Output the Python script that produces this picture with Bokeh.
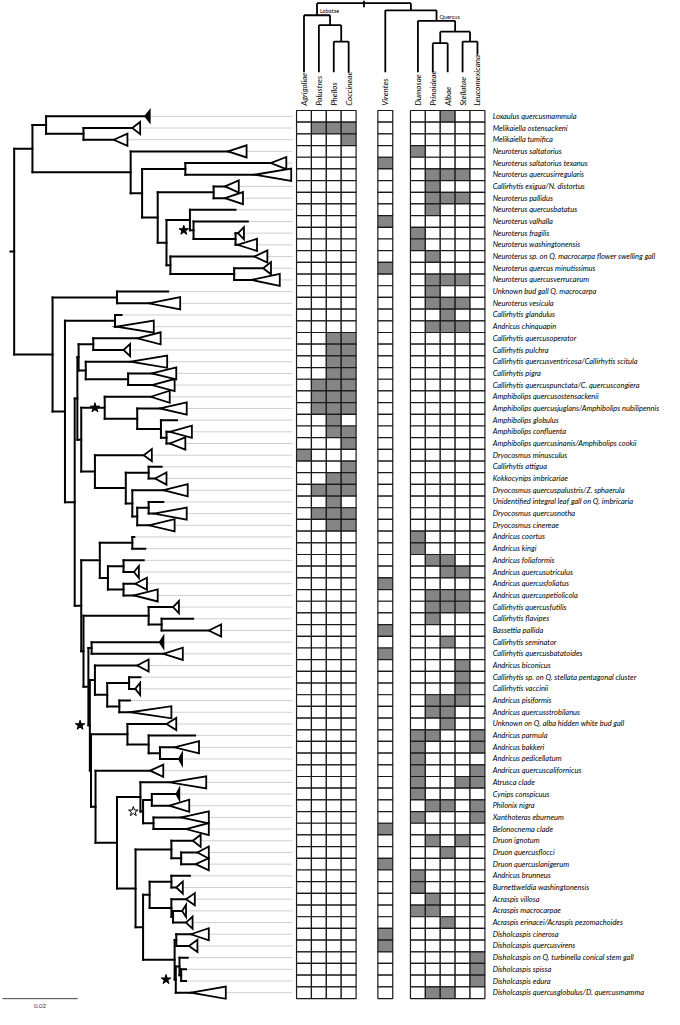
import math
from bokeh.plotting import figure
from bokeh.models import Range1d, ColumnDataSource
from bokeh.embed import file_html
from bokeh.resources import INLINE
from bokeh.core.properties import value

# ---------------- data ----------------
SPECIES = [
    "Loxaulus quercusmammula", "Melikaiella ostensackeni", "Melikaiella tumifica",
    "Neuroterus saltatorius", "Neuroterus saltatorius texanus", "Neuroterus quercusirregularis",
    "Callirhytis exigua/N. distortus", "Neuroterus pallidus", "Neuroterus quercusbatatus",
    "Neuroterus valhalla", "Neuroterus fragilis", "Neuroterus washingtonensis",
    "Neuroterus sp. on Q. macrocarpa flower swelling gall", "Neuroterus quercus minutissimus",
    "Neuroterus quercusverrucarum", "Unknown bud gall Q. macrocarpa", "Neuroterus vesicula",
    "Callirhytis glandulus", "Andricus chinquapin", "Callirhytis quercusoperator",
    "Callirhytis pulchra", "Callirhytis quercusventricosa/Callirhytis scitula", "Callirhytis pigra",
    "Callirhytis quercuspunctata/C. quercuscongiera", "Amphibolips quercusostensackenii",
    "Amphibolips quercusjuglans/Amphibolips nubilipennis", "Amphibolips globulus",
    "Amphibolips confluenta", "Amphibolips quercusinanis/Amphibolips cookii",
    "Dryocosmus minusculus", "Callirhytis attigua", "Kokkocynips imbricariae",
    "Dryocosmus quercuspalustris/Z. sphaerula", "Unidentified integral leaf gall on Q. imbricaria",
    "Dryocosmus quercusnotha", "Dryocosmus cinereae", "Andricus coortus", "Andricus kingi",
    "Andricus foliaformis", "Andricus quercusutriculus", "Andricus quercusfoliatus",
    "Andricus quercuspetiolicola", "Callirhytis quercusfutilis", "Callirhytis flavipes",
    "Bassettia pallida", "Callirhytis seminator", "Callirhytis quercusbatatoides",
    "Andricus biconicus", "Callirhytis sp. on Q. stellata pentagonal cluster",
    "Callirhytis vaccinii", "Andricus pisiformis", "Andricus quercusstrobilanus",
    "Unknown on Q. alba hidden white bud gall", "Andricus parmula", "Andricus bakkeri",
    "Andricus pedicellatum", "Andricus quercuscalifornicus", "Atrusca clade",
    "Cynips conspicuus", "Philonix nigra", "Xanthoteras eburneum", "Belonocnema clade",
    "Druon ignotum", "Druon quercusflocci", "Druon quercuslanigerum", "Andricus brunneus",
    "Burnettweldia washingtonensis", "Acraspis villosa", "Acraspis macrocarpae",
    "Acraspis erinacei/Acraspis pezomachoides", "Disholcaspis cinerosa",
    "Disholcaspis quercusvirens", "Disholcaspis on Q. turbinella conical stem gall",
    "Disholcaspis spissa", "Disholcaspis edura", "Disholcaspis quercusglobulus/D. quercusmamma",
]

SECTIONS = ["Agrigoliae", "Palustres", "Phellos", "Coccineae", "Virentes",
            "Dumosae", "Prinoideae", "Albae", "Stellatae", "Leucomexicana"]
SECTION_GROUP_SIZES = [4, 1, 5]

# host oak sections per gall wasp (columns as in SECTIONS; groups separated by spaces)
HOSTS = [
    "0000 0 00100", "0111 0 00000", "0001 0 00000", "0000 0 10000", "0000 1 00000",
    "0000 0 01110", "0000 0 01000", "0000 0 01110", "0000 0 01000", "0000 1 00000",
    "0000 0 10000", "0000 0 10000", "0000 0 01000", "0000 1 00000", "0000 0 01110",
    "0000 0 01000", "0000 0 01110", "0000 0 00100", "0000 0 01110", "0011 0 00000",
    "0011 0 00000", "0011 0 00000", "0011 0 00000", "0111 0 00000", "0111 0 00000",
    "0111 0 00000", "0010 0 00000", "0011 0 00000", "0001 0 00000", "1000 0 00000",
    "0001 0 00000", "0011 0 00000", "0111 0 00000", "0010 0 00000", "0111 0 00000",
    "0011 0 00000", "0000 0 10000", "0000 0 10000", "0000 0 01100", "0000 0 00110",
    "0000 1 00000", "0000 0 01110", "0000 0 01110", "0000 0 01000", "0000 1 00000",
    "0000 0 00100", "0000 1 00000", "0000 0 00010", "0000 0 00010", "0000 0 00010",
    "0000 0 01110", "0000 0 01100", "0000 0 00100", "0000 0 11001", "0000 0 10001",
    "0000 0 10000", "0000 0 10001", "0000 0 10011", "0000 0 10000", "0000 0 01101",
    "0000 0 10001", "0000 1 00000", "0000 0 01010", "0000 0 00100", "0000 1 00000",
    "0000 0 10000", "0000 0 10000", "0000 0 01000", "0000 0 11000", "0000 0 00100",
    "0000 1 00000", "0000 1 00000", "0000 0 00001", "0000 0 00001", "0000 0 00001",
    "0000 0 01100",
]

# wasp phylogeny: (node, depth in 0.001 subst/site, children)
# tips: "tE" = branch ending at E; "oA-B" open collapsed clade from A to B; "fA-B" filled
BRANCH_UNIT = 0.001
TREE_NODES = [
    ("root", 0.00, ["A", "P"]),
    ("A", 4.86, ["B", "D"]),
    ("B", 8.49, ["f34.81-36.10", "C"]),
    ("C", 18.44, ["o31.43-33.51", "o26.49-30.13"]),
    ("D", 30.99, ["o56.88-61.82", "E"]),
    ("E", 34.03, ["F", "G"]),
    ("F", 45.53, ["o68.23-72.39", "o63.90-73.69"]),
    ("G", 38.18, ["H", "I"]),
    ("H", 53.06, ["o56.10-59.74", "o56.10-60.86"]),
    ("I", 40.52, ["J", "M"]),
    ("J", 46.75, ["t58.88", "K"]),
    ("K", 47.71, ["t62.16", "L"]),
    ("L", 58.88, ["o59.56-61.12", "o59.40-64.60"]),
    ("M", 41.56, ["o63.90-67.35", "N"]),
    ("N", 58.52, ["o66.23-68.31", "o63.04-70.65"]),
    ("P", 10.21, ["Q", "R"]),
    ("Q", 27.35, ["t40.96", "o35.77-44.16"]),
    ("R", 13.51, ["S", "T"]),
    ("S", 26.83, ["t28.57", "o27.27-37.14"]),
    ("T", 16.10, ["Ntop", "L1"]),
    ("Ntop", 16.81, ["NUV", "NX2"]),
    ("NUV", 17.14, ["U", "V"]),
    ("U", 21.04, ["o32.73-38.96", "o29.09-30.83"]),
    ("V", 19.04, ["o30.99-40.70", "W"]),
    ("W", 30.31, ["o36.62-43.12", "o36.62-42.68"]),
    ("NX2", 17.84, ["X", "D30"]),
    ("X", 24.08, ["o36.36-41.38", "Y"]),
    ("Y", 32.73, ["o38.78-45.90", "Z"]),
    ("Z", 39.04, ["t43.30", "AA"]),
    ("AA", 40.52, ["o41.38-47.27", "o41.38-45.53"]),
    ("D30", 21.48, ["o34.47-36.62", "D31"]),
    ("D31", 29.69, ["D32", "D33"]),
    ("D32", 35.77, ["t39.22", "o37.48-40.52"]),
    ("D33", 31.43, ["o39.74-46.16", "D34"]),
    ("D34", 32.73, ["D35", "o35.84-42.68"]),
    ("D35", 35.77, ["t39.66", "o37.14-45.90"]),
    ("L1", 17.84, ["L2", "M1"]),
    ("L2", 22.78, ["L3", "L4"]),
    ("L3", 31.43, ["t31.95", "t34.88"]),
    ("L4", 24.94, ["L5", "L6"]),
    ("L5", 29.09, ["t34.47", "o31.87-33.17"]),
    ("L6", 29.09, ["o32.21-35.32", "o31.87-38.18"]),
    ("M1", 18.44, ["M1a", "M2"]),
    ("M1a", 35.77, ["o42.26-43.82", "M1b"]),
    ("M1b", 39.22, ["t47.61", "o51.77-55.06"]),
    ("M2", 19.74, ["M2a", "M3"]),
    ("M2a", 20.60, ["f38.70-39.74", "o39.66-44.86"]),
    ("M3", 20.13, ["M3a", "M4"]),
    ("M3a", 21.48, ["o32.73-35.77", "M3b"]),
    ("M3b", 24.75, ["M3c", "M3d"]),
    ("M3c", 30.57, ["t33.58", "o32.21-33.51"]),
    ("M3d", 27.97, ["t30.83", "o30.91-41.82"]),
    ("M4", 20.44, ["M4a", "M5"]),
    ("M4a", 30.13, ["o40.52-43.12", "M4b"]),
    ("M4b", 35.77, ["t48.13", "M4c"]),
    ("M4c", 38.78, ["o42.60-49.17", "f43.82-44.68"]),
    ("M5", 21.64, ["o36.18-39.66", "M6"]),
    ("M6", 27.35, ["Q1", "Q3"]),
    ("Q1", 33.58, ["o41.30-51.09", "Q2"]),
    ("Q2", 34.29, ["Q2a", "Q2b"]),
    ("Q2a", 36.62, ["f43.12-43.97", "o41.30-46.57"]),
    ("Q2b", 37.06, ["o44.42-51.77", "o45.71-51.77"]),
    ("Q3", 32.29, ["Q3a", "Q4"]),
    ("Q3a", 41.82, ["o47.53-49.61", "Q3b"]),
    ("Q3b", 44.42, ["o48.75-51.77", "o48.31-51.77"]),
    ("Q4", 34.29, ["Q5", "Y1"]),
    ("Q5", 36.03, ["Q5a", "Q5b"]),
    ("Q5a", 41.82, ["t46.75", "o43.12-44.86"]),
    ("Q5b", 41.82, ["o45.71-48.05", "Q5c"]),
    ("Q5c", 42.26, ["o44.68-45.71", "o45.71-47.45"]),
    ("Y1", 42.68, ["Y1a", "Y2"]),
    ("Y1a", 43.12, ["o47.01-51.77", "o46.49-48.75"]),
    ("Y2", 42.99, ["Y3", "o47.01-56.29"]),
    ("Y3", 43.97, ["t46.16", "Y4"]),
    ("Y4", 44.42, ["t45.71", "t45.71"]),
]
STAR_NODES = ["K", "X", "M3", "Y2"]
OPEN_STAR_NODES = ["Q2"]
SCALE_BAR = 0.02

# oak section cladogram (node, level 0=root .. 1=leaf tips, children)
SECTION_NODES = [
    ("root", 0.0, ["Lobatae", "VQ"]),
    ("Lobatae", 0.175, ["Agrigoliae", "PPC"]),
    ("PPC", 0.317, ["Palustres", "PC"]),
    ("PC", 0.555, ["Phellos", "Coccineae"]),
    ("VQ", 0.104, ["Virentes", "Quercus"]),
    ("Quercus", 0.256, ["Dumosae", "PASL"]),
    ("PASL", 0.412, ["PA", "SL"]),
    ("PA", 0.578, ["Prinoideae", "Albae"]),
    ("SL", 0.555, ["Stellatae", "Leucomexicana"]),
]
SECTION_LEAF_LEVEL = [1, 1, 1, 1, 1, 1, 1, 1, 1, 0.745]
CLADE_LABELS = ["Lobatae", "Quercus"]

# ---------------- layout ----------------
IMG_W, IMG_H = 680, 1025
ROW_Y0, ROW_H = 105.8, 11.87
TREE_X0, PX_PER_SUB = 14.0, 3850.0
COL_X0, COL_W = 310.8, 15.25
GROUP_GAPS = [1.46, 1.19]
HDR_TOP, HDR_LEAF = 2.7, 73.0
LABEL_FONT = "Lato"

def img_row(py):
    return (py - ROW_Y0) / ROW_H

def mat_to_tree(m):
    return (COL_X0 + m * COL_W - TREE_X0) / PX_PER_SUB

p = figure(width=664, height=1009, output_backend="svg", toolbar_location=None,
           x_range=Range1d(-TREE_X0 / PX_PER_SUB, (IMG_W - TREE_X0) / PX_PER_SUB),
           y_range=Range1d(img_row(IMG_H), img_row(0)),
           x_axis_location=None, y_axis_location=None, min_border=0,
           outline_line_color=None, background_fill_color="white")
p.grid.visible = False
p.extra_x_ranges = {"mat": Range1d(-COL_X0 / COL_W, (IMG_W - COL_X0) / COL_W)}

# column positions
col_pos = []
pos = 0.0
for gi, n in enumerate(SECTION_GROUP_SIZES):
    for _ in range(n):
        col_pos.append(pos)
        pos += 1
    if gi < len(GROUP_GAPS):
        pos += GROUP_GAPS[gi]

# ---------------- wasp tree ----------------
nodes = {name: (d, kids) for name, d, kids in TREE_NODES}
seg = dict(x0=[], y0=[], x1=[], y1=[])
guide = dict(x0=[], y0=[], x1=[], y1=[])
tri_o = dict(xs=[], ys=[])
tri_f = dict(xs=[], ys=[])
node_xy = {}
tip_counter = [0]
H = 0.52
guide_end = mat_to_tree(-0.77)

def add_seg(x0, y0, x1, y1):
    seg["x0"].append(x0); seg["y0"].append(y0); seg["x1"].append(x1); seg["y1"].append(y1)

def walk(name, parent_x):
    if name in nodes:
        d, kids = nodes[name]
        x = d * BRANCH_UNIT
        ys = [walk(k, x) for k in kids]
        y = (ys[0] + ys[-1]) / 2
        add_seg(x, ys[0], x, ys[-1])
        if parent_x is not None:
            add_seg(parent_x, y, x, y)
        node_xy[name] = (x, y)
        return y
    tip_counter[0] += 1
    y = tip_counter[0]
    kind = name[0]
    if kind == "t":
        end = float(name[1:]) * BRANCH_UNIT
        add_seg(parent_x, y, end, y)
    else:
        a, b = [float(v) * BRANCH_UNIT for v in name[1:].split("-")]
        add_seg(parent_x, y, a, y)
        tgt = tri_o if kind == "o" else tri_f
        tgt["xs"].append([a, b, b])
        tgt["ys"].append([y, y - H, y + H])
        end = b
    guide["x0"].append(end); guide["y0"].append(y)
    guide["x1"].append(guide_end); guide["y1"].append(y)
    return y

root_y = walk("root", None)
add_seg(-1.0 * BRANCH_UNIT, root_y, 0, root_y)

p.segment(x0="x0", y0="y0", x1="x1", y1="y1", source=ColumnDataSource(guide),
          line_color="#cfcfcf", line_width=1)
p.segment(x0="x0", y0="y0", x1="x1", y1="y1", source=ColumnDataSource(seg),
          line_color="black", line_width=2, line_cap="square")
p.patches(xs="xs", ys="ys", source=ColumnDataSource(tri_o), fill_color="white",
          line_color="black", line_width=1.8, line_join="miter")
p.patches(xs="xs", ys="ys", source=ColumnDataSource(tri_f), fill_color="black",
          line_color="black", line_width=1.5, line_join="miter")

star_off = 10.0 / PX_PER_SUB
p.scatter([node_xy[n][0] - star_off for n in STAR_NODES], [node_xy[n][1] for n in STAR_NODES],
          marker="star", size=10, fill_color="black", line_color="black")
p.scatter([node_xy[n][0] - star_off for n in OPEN_STAR_NODES], [node_xy[n][1] for n in OPEN_STAR_NODES],
          marker="star", size=10, fill_color="white", line_color="black", line_width=1)

# scale bar
sb_x0 = -12.0 / PX_PER_SUB
p.segment([sb_x0], [img_row(1014)], [sb_x0 + SCALE_BAR], [img_row(1014)], line_color="#444", line_width=1)
p.text([sb_x0 + SCALE_BAR / 2], [img_row(1021)], text=[str(SCALE_BAR)], text_align="center",
       text_baseline="middle", text_font=value(LABEL_FONT), text_font_size="6px", text_color="#333")

# ---------------- host matrix ----------------
cx, cy, cf = [], [], []
for r, row in enumerate(HOSTS):
    flags = row.replace(" ", "")
    for c, f in enumerate(flags):
        cx.append(col_pos[c]); cy.append(r + 1)
        cf.append("#858585" if f == "1" else "white")
p.rect(x="x", y="y", width=1, height=1, source=ColumnDataSource(dict(x=cx, y=cy, f=cf)),
       fill_color="f", line_color="#1a1a1a", line_width=1.2, x_range_name="mat")

# species labels
p.text(x=[12.67] * len(SPECIES), y=list(range(1, len(SPECIES) + 1)), text=SPECIES,
       text_font=value(LABEL_FONT), text_font_size="7.5px", text_font_style="italic",
       text_baseline="middle", text_align="left", x_range_name="mat", text_color="black")

# ---------------- section cladogram ----------------
snodes = {name: (lv, kids) for name, lv, kids in SECTION_NODES}
hseg = dict(x0=[], y0=[], x1=[], y1=[])

def lvl(l):
    return img_row(HDR_TOP + l * (HDR_LEAF - HDR_TOP))

def hwalk(name, parent_level):
    if name in snodes:
        lv, kids = snodes[name]
        xs = [hwalk(k, lv) for k in kids]
        x = (xs[0] + xs[-1]) / 2
        hseg["x0"].append(xs[0]); hseg["x1"].append(xs[-1])
        hseg["y0"].append(lvl(lv)); hseg["y1"].append(lvl(lv))
        if parent_level is not None:
            hseg["x0"].append(x); hseg["x1"].append(x)
            hseg["y0"].append(lvl(parent_level)); hseg["y1"].append(lvl(lv))
        if name in CLADE_LABELS:
            p.text([x + 0.2], [lvl(lv)], text=[name], text_font=value(LABEL_FONT), text_font_size="5.5px",
                   text_baseline="bottom", text_align="left", y_offset=-1, x_range_name="mat")
        return x
    i = SECTIONS.index(name)
    x = col_pos[i]
    hseg["x0"].append(x); hseg["x1"].append(x)
    hseg["y0"].append(lvl(parent_level)); hseg["y1"].append(lvl(SECTION_LEAF_LEVEL[i]))
    return x

rx = hwalk("root", None)
hseg["x0"].append(rx); hseg["x1"].append(rx)
hseg["y0"].append(lvl(-0.04)); hseg["y1"].append(lvl(0.06))
p.segment(x0="x0", y0="y0", x1="x1", y1="y1", source=ColumnDataSource(hseg),
          line_color="black", line_width=1.8, x_range_name="mat")

p.text(x=col_pos, y=[img_row(107)] * len(SECTIONS), text=SECTIONS, angle=math.pi / 2,
       text_font=value(LABEL_FONT), text_font_size="8px", text_font_style="italic",
       text_baseline="middle", text_align="left", x_range_name="mat")

open("out.html", "w").write(file_html(p, INLINE))
